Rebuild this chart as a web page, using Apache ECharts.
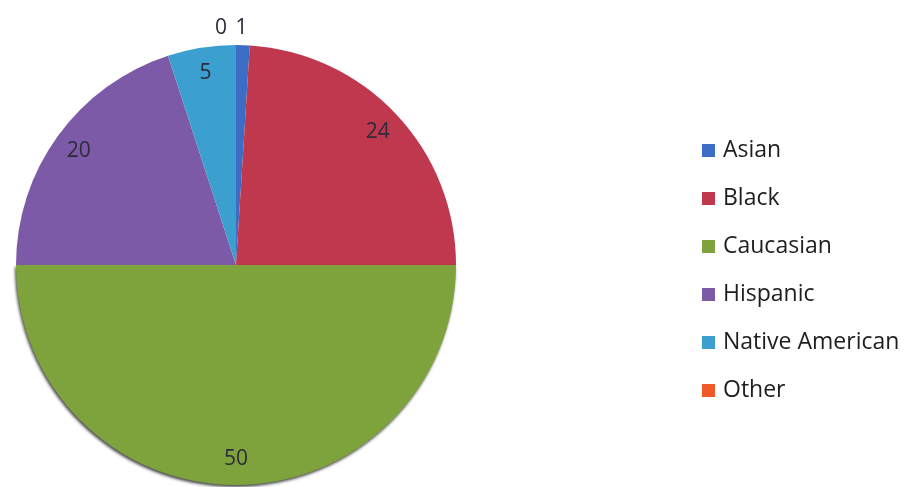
<!DOCTYPE html>
<html>
<head>
<meta charset="utf-8">
<script src="https://cdn.jsdelivr.net/npm/echarts@6/dist/echarts.min.js"></script>
<style>html,body{margin:0;padding:0;background:#fff;}#c{width:905px;height:487px;}</style>
</head>
<body>
<div id="c"></div>
<script>
const categories = ['Asian', 'Black', 'Caucasian', 'Hispanic', 'Native American', 'Other'];
const values = [1, 24, 50, 20, 5, 0];
const colors = ['#3b6dc6', '#c0384d', '#7ea23c', '#7d5aa8', '#3b9fcf', '#f05a2a'];
const outsideLabelNames = ['Asian', 'Other'];

const R = 220;
const center = [236, 265];
const font = '"Open Sans", "Noto Sans", sans-serif';

const mainData = categories.map((n, i) => ({
  name: n, value: values[i],
  itemStyle: n === 'Caucasian'
    ? { color: colors[i], shadowColor: 'rgba(0,0,0,0.7)', shadowBlur: 3, shadowOffsetX: -1, shadowOffsetY: 2 }
    : { color: colors[i] }
}));
const labelData = categories.map((n, i) => {
  const outside = outsideLabelNames.includes(n);
  return {
    name: n, value: values[i],
    label: outside ? { position: 'outside' } : { position: 'inside' },
    labelLine: n === 'Asian' ? { show: false, length: 17, length2: -13 }
             : n === 'Other' ? { show: false, length: 17, length2: 4 }
             : { show: false }
  };
});

const chart = echarts.init(document.getElementById('c'), null, { renderer: 'canvas' });
chart.setOption({
  animation: false,
  color: colors,
  legend: {
    orient: 'vertical',
    left: 697, top: 134,
    itemWidth: 13, itemHeight: 13, itemGap: 25,
    icon: 'rect',
    data: categories,
    textStyle: { fontFamily: font, fontSize: 23, lineHeight: 23, color: '#1e1e1e', padding: [0, 0, 0, 3] }
  },
  series: [
    {
      type: 'pie', center: center, radius: [0, R],
      startAngle: 90, clockwise: true,
      silent: true, label: { show: false }, labelLine: { show: false },
      itemStyle: { borderWidth: 0 },
      data: mainData
    },
    {
      type: 'pie', center: center, radius: [R * 0.74, R],
      startAngle: 90, clockwise: true, silent: true,
      avoidLabelOverlap: false,
      itemStyle: { color: 'rgba(0,0,0,0)', borderWidth: 0 },
      label: { show: true, formatter: '{c}', fontFamily: font, fontSize: 21, color: '#2b2b3a' },
      labelLine: { show: false, length: 17, length2: 0 },
      emphasis: { disabled: true },
      data: labelData
    }
  ]
});
</script>
</body>
</html>
